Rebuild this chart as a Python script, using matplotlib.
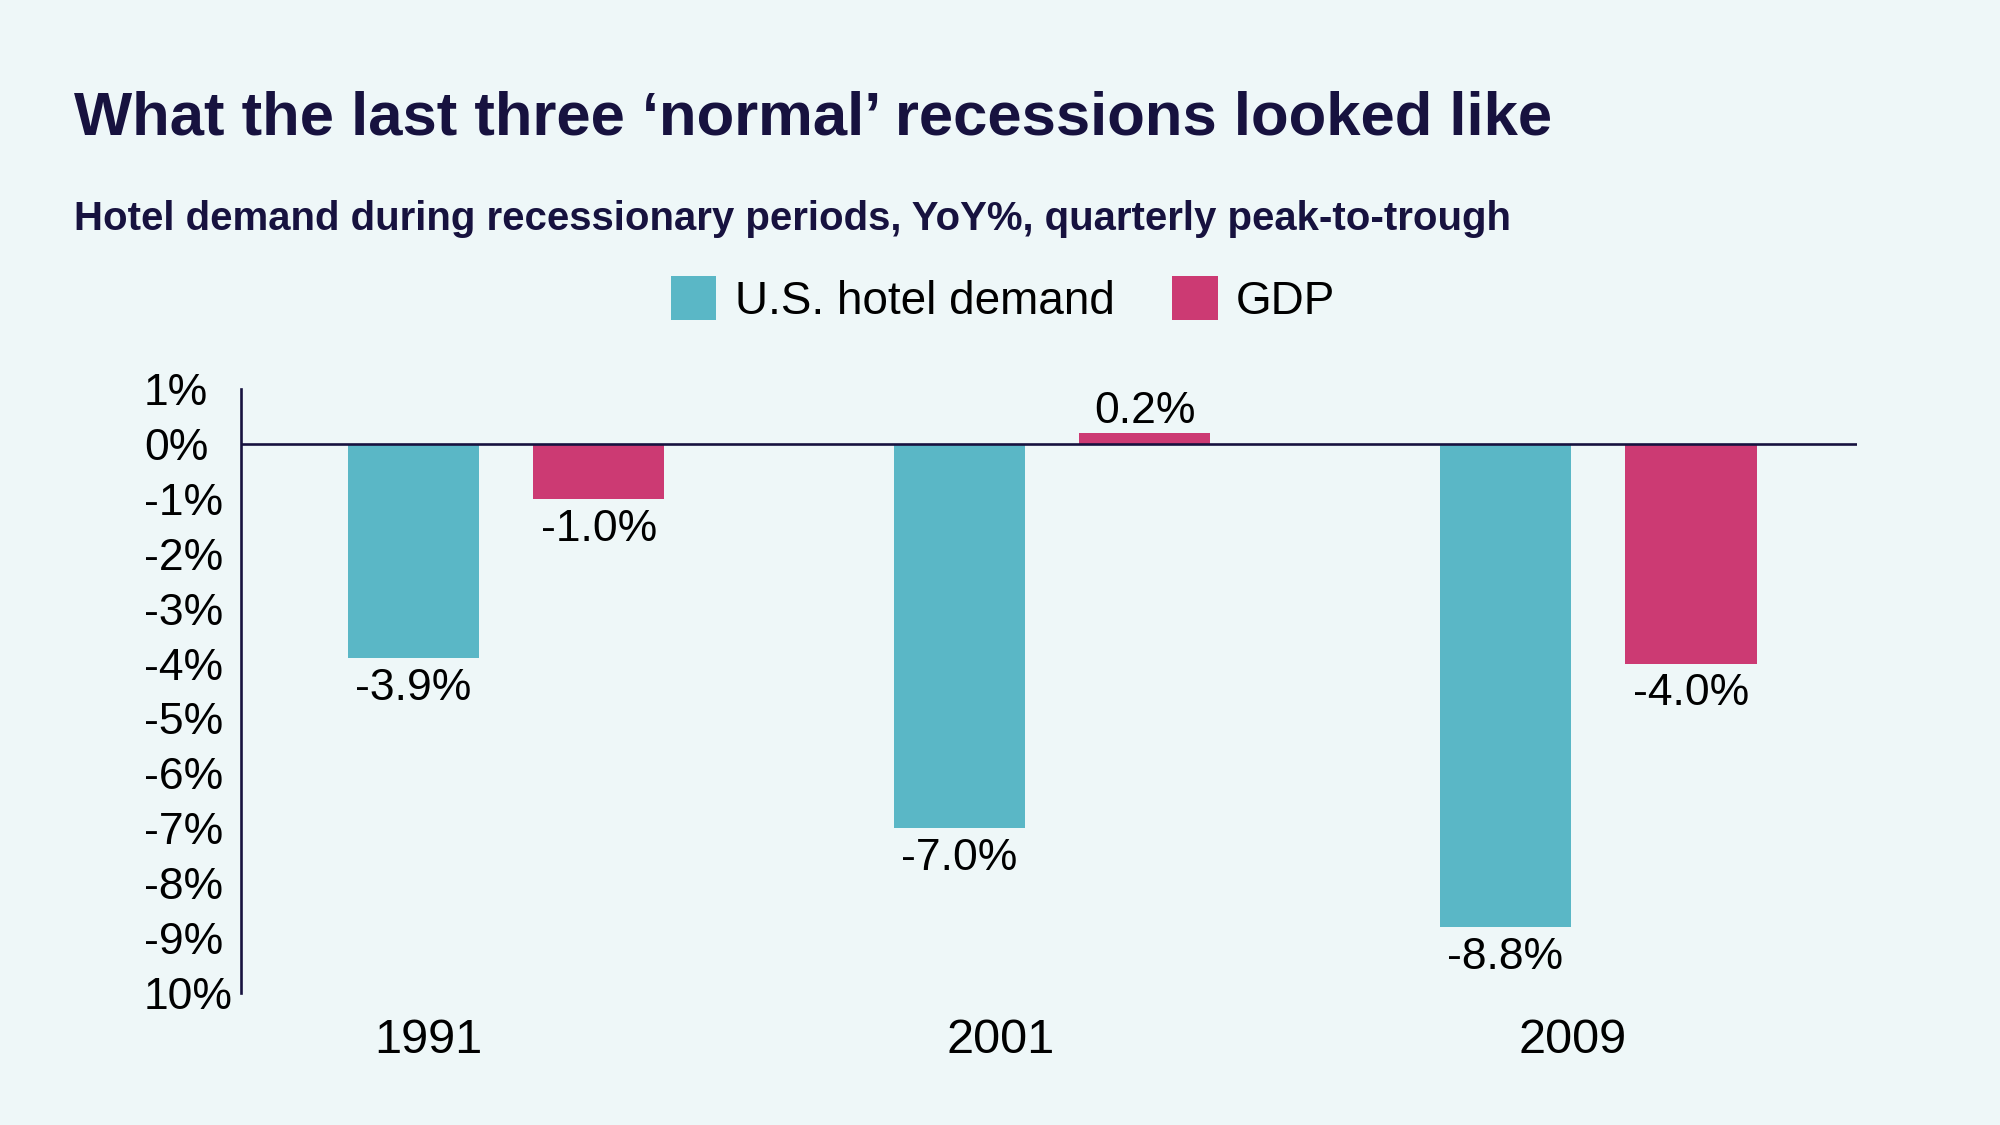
import matplotlib
matplotlib.use("Agg")
import matplotlib.pyplot as plt
from matplotlib.patches import Patch
from matplotlib import font_manager

# ---- data ----
years = ["1991", "2001", "2009"]
hotel_demand = [-3.9, -7.0, -8.8]
gdp = [-1.0, 0.2, -4.0]
series_names = ["U.S. hotel demand", "GDP"]
yticks = [1, 0, -1, -2, -3, -4, -5, -6, -7, -8, -9, -10]
ytick_labels = ["1%", "0%", "-1%", "-2%", "-3%", "-4%", "-5%", "-6%", "-7%", "-8%", "-9%", "10%"]
title = "What the last three \u2018normal\u2019 recessions looked like"
subtitle = "Hotel demand during recessionary periods, YoY%, quarterly peak-to-trough"

# ---- style ----
BG = "#EEF7F8"
TEAL = "#5AB7C6"
MAGENTA = "#CC3A73"
NAVY = "#17123F"
W, H = 2000, 1125

avail = {f.name for f in font_manager.fontManager.ttflist}
narrow = "Liberation Sans Narrow" if "Liberation Sans Narrow" in avail else "Liberation Sans"
BODY = ["Liberation Sans", "DejaVu Sans"]
HEAD = [narrow, "Liberation Sans", "DejaVu Sans"]

fig = plt.figure(figsize=(20, 11.25), dpi=100, facecolor=BG)
ax = fig.add_axes([241 / W, 1 - 993 / H, (1857 - 241) / W, (993 - 389) / H])
ax.set_facecolor(BG)

n = len(years)
group_x = list(range(n))
bw = 0.24
off = 0.170
hx = [x - off for x in group_x]
gx = [x + off for x in group_x]
b1 = ax.bar(hx, hotel_demand, width=bw, color=TEAL, zorder=2)
b2 = ax.bar(gx, gdp, width=bw, color=MAGENTA, zorder=2)
ax.axhline(0, color=NAVY, lw=1.9, zorder=3)

for bars, vals in ((b1, hotel_demand), (b2, gdp)):
    for rect, v in zip(bars, vals):
        cx = rect.get_x() + rect.get_width() / 2
        if v < 0:
            ax.annotate(f"{v:.1f}%", (cx, v), xytext=(0, -7), textcoords="offset points",
                        ha="center", va="top", fontsize=32, family=BODY, color="black")
        else:
            ax.annotate(f"{v:.1f}%", (cx, v), xytext=(0, 7), textcoords="offset points",
                        ha="center", va="baseline", fontsize=32, family=BODY, color="black")

ax.set_xlim(-0.4853, 2.474)
ax.set_ylim(-10, 1)
ax.set_yticks(yticks)
ax.set_yticklabels(ytick_labels, fontsize=32, family=BODY, ha="left")
ax.tick_params(axis="y", length=0, pad=70)
label_x = [i * 1.048 - 0.143 for i in group_x]
ax.set_xticks(label_x)
ax.set_xticklabels(years, fontsize=35, family=BODY)
ax.tick_params(axis="x", length=0, pad=18)

for s in ("top", "right", "bottom"):
    ax.spines[s].set_visible(False)
ax.spines["left"].set_color(NAVY)
ax.spines["left"].set_linewidth(1.9)

# legend
handles = [Patch(facecolor=TEAL, edgecolor="none"), Patch(facecolor=MAGENTA, edgecolor="none")]
fig.legend(handles, series_names, loc="center", bbox_to_anchor=(1003 / W, 1 - 300 / H),
           ncol=2, frameon=False, prop={"family": BODY, "size": 33},
           handlelength=1.0, handleheight=1.1, handletextpad=0.4, columnspacing=1.25,
           borderpad=0, borderaxespad=0)

# title / subtitle, fitted to reference widths
renderer = fig.canvas.get_renderer()
def fitted_text(s, y, target_w, size0, max_size):
    t = fig.text(74 / W, y, s, fontsize=size0, family=HEAD, weight="bold", color=NAVY, va="baseline")
    w = t.get_window_extent(renderer).width
    t.set_fontsize(min(max_size, size0 * target_w / w))
    return t

fitted_text(title, 1 - 134 / H, 1479, 50, 60)
fitted_text(subtitle, 1 - 230 / H, 1437, 30, 40)

fig.savefig("out.png", dpi=100, facecolor=BG)
